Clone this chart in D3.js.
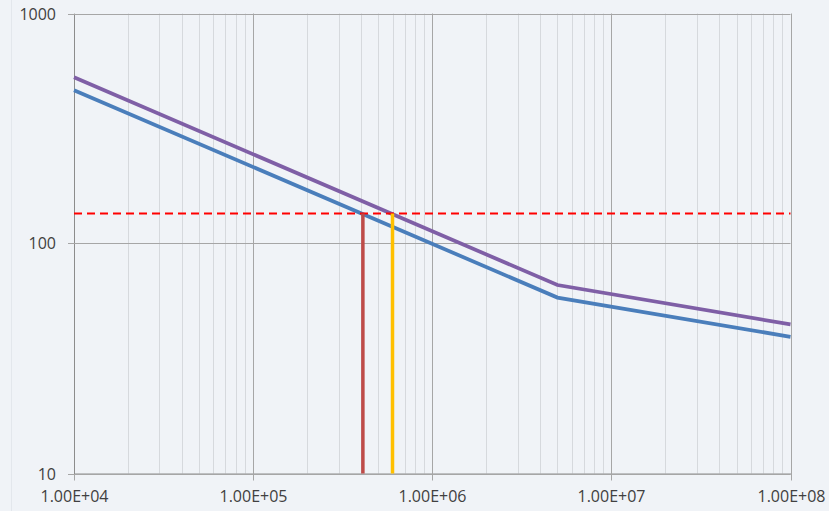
<!DOCTYPE html>
<html>
<head>
<meta charset="utf-8">
<script src="https://cdn.jsdelivr.net/npm/d3@7"></script>
<style>
  html, body { margin: 0; padding: 0; background: #F0F3F7; }
  svg { display: block; }
  .tick text { font-family: "Open Sans", "Noto Sans", sans-serif; font-size: 16px; fill: #404040; }
</style>
</head>
<body>
<svg id="chart" width="829" height="511"></svg>
<script>
// Cycles to failure (N) and stress range (MPa) for the two S-N curves
const cycles = [1e4, 5e6, 1e8];
const stressLower = [464, 58.2, 39.3];   // blue curve
const stressUpper = [528, 66.0, 44.5];   // purple curve

// Design stress level and the matching lives on each curve
const designStress = 135;
const lifeLower = 4.1e5;
const lifeUpper = 6.0e5;

// Axis ticks
const xTicks = [1e4, 1e5, 1e6, 1e7, 1e8];
const xTickLabels = ["1.00E+04", "1.00E+05", "1.00E+06", "1.00E+07", "1.00E+08"];
const yTicks = [10, 100, 1000];
const yTickLabels = ["10", "100", "1000"];

const svg = d3.select("#chart");
const plotLeft = 74, plotRight = 790.5, plotTop = 13.5, plotBottom = 473.5;

const x = d3.scaleLog().domain([1e4, 1e8]).range([plotLeft, plotRight]);
const y = d3.scaleLog().domain([10, 1000]).range([plotBottom, plotTop]);

// faint frame of the chart area
svg.append("line").attr("x1", 11.5).attr("x2", 11.5).attr("y1", 0).attr("y2", 511)
  .attr("stroke", "#E3E7EC").attr("stroke-width", 1);

// minor vertical gridlines (2..9 within each decade)
const minorX = [];
for (let d = 4; d < 8; d++) for (let k = 2; k <= 9; k++) minorX.push(k * Math.pow(10, d));
svg.append("g").selectAll("line").data(minorX).join("line")
  .attr("x1", d => Math.round(x(d)) + 0.5).attr("x2", d => Math.round(x(d)) + 0.5)
  .attr("y1", plotTop).attr("y2", plotBottom)
  .attr("stroke", "#D6D9DD").attr("stroke-width", 1);

// x axis with major gridlines
const xAxis = d3.axisBottom(x).tickValues(xTicks)
  .tickFormat((d, i) => xTickLabels[i]).tickSizeInner(-(plotBottom - plotTop)).tickSizeOuter(0).tickPadding(17);
const gx = svg.append("g").attr("transform", `translate(0,${plotBottom})`).call(xAxis);
gx.select(".domain").attr("stroke", "#8C8C8C");
gx.selectAll(".tick line").attr("stroke", "#A6A6A6").attr("y1", 7);
gx.selectAll(".tick").attr("transform", d => `translate(${Math.round(x(d)) + 0.5},0)`);

// y axis with major gridlines
const yAxis = d3.axisLeft(y).tickValues(yTicks)
  .tickFormat((d, i) => yTickLabels[i]).tickSizeInner(-(plotRight - plotLeft)).tickSizeOuter(0).tickPadding(12);
const gy = svg.append("g").attr("transform", `translate(${plotLeft},0)`).call(yAxis);
gy.select(".domain").attr("stroke", "#8C8C8C");
gy.selectAll(".tick line").attr("stroke", "#A6A6A6").attr("x1", -6);
gy.selectAll(".tick").attr("transform", d => `translate(0,${Math.round(y(d)) + 0.5})`);
gy.selectAll(".tick text").attr("x", -18);

// S-N curves
const line = d3.line().x(d => x(d[0])).y(d => y(d[1]));
svg.append("path").datum(cycles.map((n, i) => [n, stressLower[i]]))
  .attr("d", line).attr("fill", "none").attr("stroke", "#4A7EBB").attr("stroke-width", 3.75);
svg.append("path").datum(cycles.map((n, i) => [n, stressUpper[i]]))
  .attr("d", line).attr("fill", "none").attr("stroke", "#7F5FA6").attr("stroke-width", 3.75);

// design stress level
svg.append("line")
  .attr("x1", x(1e4)).attr("x2", x(1e8))
  .attr("y1", y(designStress)).attr("y2", y(designStress))
  .attr("stroke", "#FF0000").attr("stroke-width", 2).attr("stroke-dasharray", "8,5");

// lives at the design stress
svg.append("line")
  .attr("x1", x(lifeLower)).attr("x2", x(lifeLower))
  .attr("y1", y(designStress)).attr("y2", y(10))
  .attr("stroke", "#BE4B48").attr("stroke-width", 3.5);
svg.append("line")
  .attr("x1", x(lifeUpper)).attr("x2", x(lifeUpper))
  .attr("y1", y(designStress)).attr("y2", y(10))
  .attr("stroke", "#FFC000").attr("stroke-width", 3.5);
</script>
</body>
</html>
